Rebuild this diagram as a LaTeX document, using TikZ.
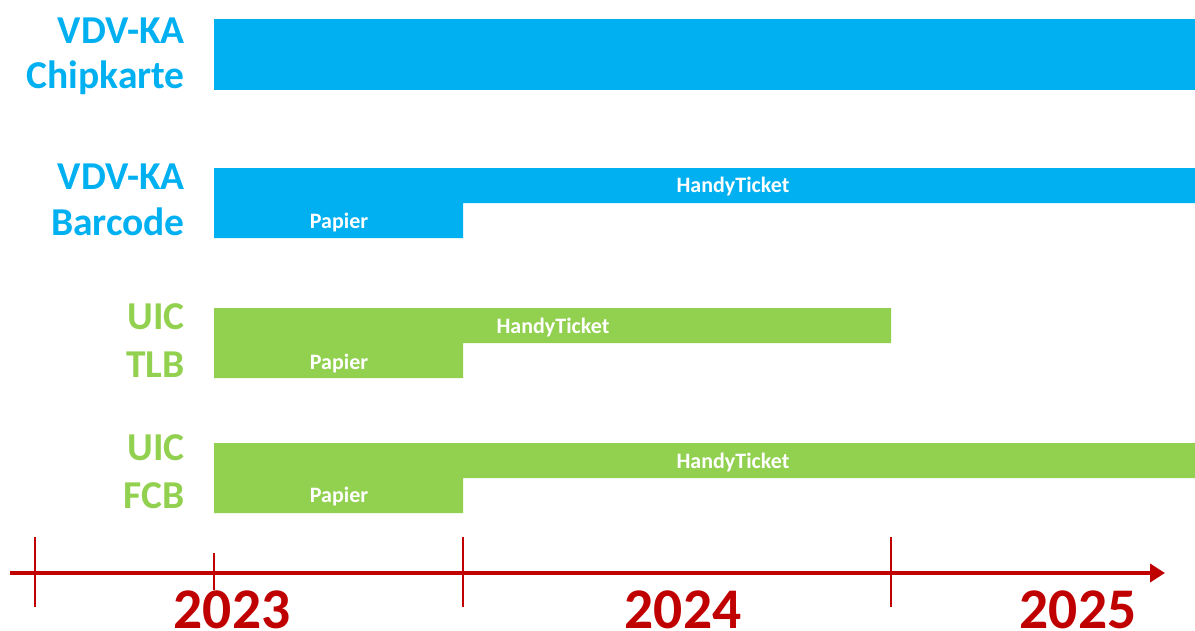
\documentclass[tikz,border=0pt]{standalone}
\usepackage{fontspec}
\setmainfont{Carlito}
\usetikzlibrary{arrows.meta}
\definecolor{vdvblue}{HTML}{00B0F0}
\definecolor{uicgreen}{HTML}{92D050}
\definecolor{axisred}{HTML}{C00000}
\tikzset{
  rowlabel/.style={anchor=base east, inner sep=0pt, font=\bfseries\fontsize{39.5}{42}\selectfont},
  bartext/.style={anchor=base, inner sep=0pt, text=white, font=\bfseries\fontsize{22}{25}\selectfont},
  yeartext/.style={anchor=base, inner sep=0pt, text=axisred, font=\bfseries\fontsize{57.5}{60}\selectfont},
  tickline/.style={draw=axisred, line width=2pt},
}
\begin{document}
\begin{tikzpicture}[x=1pt,y=-1pt]
\useasboundingbox (0,0) rectangle (1195,630);
% bars
\fill[vdvblue] (214,19) rectangle (1195,90);
\fill[vdvblue] (214,168) -- (1195,168) -- (1195,203) -- (463,203) -- (463,238) -- (214,238) -- cycle;
\fill[uicgreen] (214,308) -- (891,308) -- (891,343) -- (463,343) -- (463,378) -- (214,378) -- cycle;
\fill[uicgreen] (214,443) -- (1195,443) -- (1195,478) -- (463,478) -- (463,513) -- (214,513) -- cycle;
% row labels
\node[rowlabel, text=vdvblue] (l1a) at (185,43) {VDV-KA};
\node[rowlabel, text=vdvblue] (l1b) at (185,88) {Chipkarte};
\node[rowlabel, text=vdvblue] (l2a) at (185,189) {VDV-KA};
\node[rowlabel, text=vdvblue] (l2b) at (185,235) {Barcode};
\node[rowlabel, text=uicgreen] (l3a) at (185,329) {UIC};
\node[rowlabel, text=uicgreen] (l3b) at (185,377) {TLB};
\node[rowlabel, text=uicgreen] (l4a) at (185,460) {UIC};
\node[rowlabel, text=uicgreen] (l4b) at (185,508) {FCB};
% bar texts
\node[bartext] (h2) at (733,192) {HandyTicket};
\node[bartext] (p2) at (339,228) {Papier};
\node[bartext] (h3) at (553,333) {HandyTicket};
\node[bartext] (p3) at (339,369) {Papier};
\node[bartext] (h4) at (733,468) {HandyTicket};
\node[bartext] (p4) at (339,502) {Papier};
% timeline
\coordinate (axstart) at (10,573);
\coordinate (axend) at (1165,573);
\draw[tickline] (35,537) -- (35,607);
\draw[tickline] (214,553) -- (214,590);
\draw[tickline] (463,537) -- (463,607);
\draw[tickline] (891,537) -- (891,607);
\draw[draw=axisred, line width=4pt, -{Triangle[length=15pt,width=18pt]}] (axstart) -- (axend);
\node[yeartext] (y23) at (232,628) {2023};
\node[yeartext] (y24) at (683,628) {2024};
\node[yeartext] (y25) at (1078,628) {2025};
\end{tikzpicture}
\end{document}
